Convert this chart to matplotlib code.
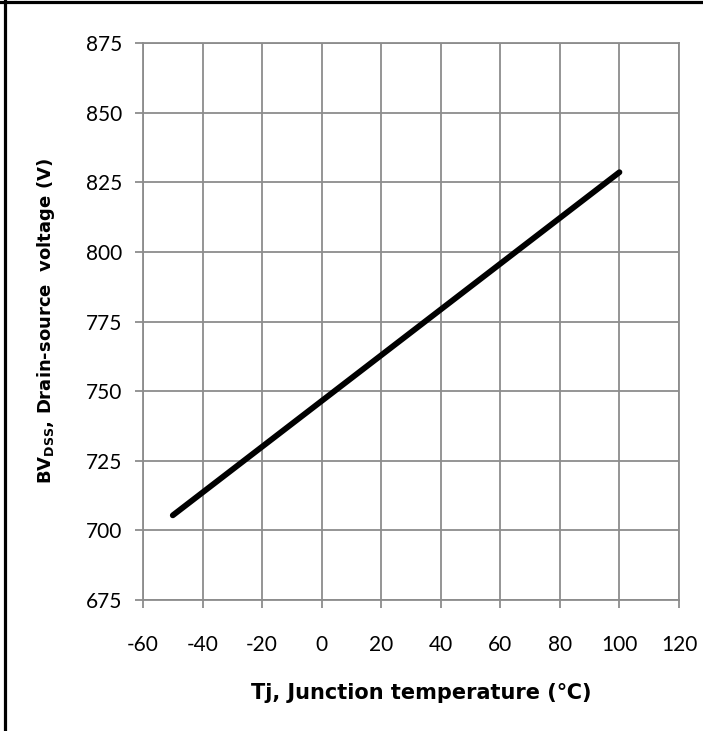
import matplotlib.pyplot as plt
from matplotlib.lines import Line2D

# Tj (C) vs BVdss (V)
temp = [-50, 100]
bvdss = [705.4, 828.6]

xticks = [-60, -40, -20, 0, 20, 40, 60, 80, 100, 120]
yticks = [675, 700, 725, 750, 775, 800, 825, 850, 875]

grid_c = "#8c8c8c"
fam = ["Lato", "DejaVu Sans"]
lab_fam = ["DejaVu Sans"]

fig = plt.figure(figsize=(7.03, 7.31), dpi=100)
ax = fig.add_axes([143 / 703, 1 - 600 / 731, 536 / 703, 557 / 731])

ax.plot(temp, bvdss, color="black", linewidth=4.2, solid_capstyle="round")

ax.set_xlim(-60, 120)
ax.set_ylim(675, 875)
ax.set_xticks(xticks)
ax.set_yticks(yticks)
ax.set_xticklabels([str(t) for t in xticks], family=fam, fontsize=15)
ax.set_yticklabels([str(t) for t in yticks], family=fam, fontsize=15)
ax.grid(True, color=grid_c, linewidth=1.3)
ax.set_axisbelow(True)
for s in ax.spines.values():
    s.set_color(grid_c)
    s.set_linewidth(1.3)
ax.tick_params(direction="out", length=6, width=1.3, color=grid_c)
ax.tick_params(axis="y", pad=9)
ax.tick_params(axis="x", pad=19)

ax.set_xlabel("Tj, Junction temperature (\u2103)", family=lab_fam, fontsize=15,
              fontweight="bold")
ax.set_ylabel("BV$_{\\mathregular{DSS}}$, Drain-source  voltage (V)", family=lab_fam,
              fontsize=13, fontweight="bold")
ax.xaxis.set_label_coords(278 / 536, -83 / 557)
ax.yaxis.set_label_coords(-86 / 536, 0.5)

# outer frame: only left and top edges
fig.add_artist(Line2D([4.5 / 703, 4.5 / 703], [0, 1], color="black",
                      linewidth=2.3, transform=fig.transFigure))
fig.add_artist(Line2D([0, 1], [1 - 1.5 / 731, 1 - 1.5 / 731], color="black",
                      linewidth=2.3, transform=fig.transFigure))

fig.savefig("out.png", dpi=100)
